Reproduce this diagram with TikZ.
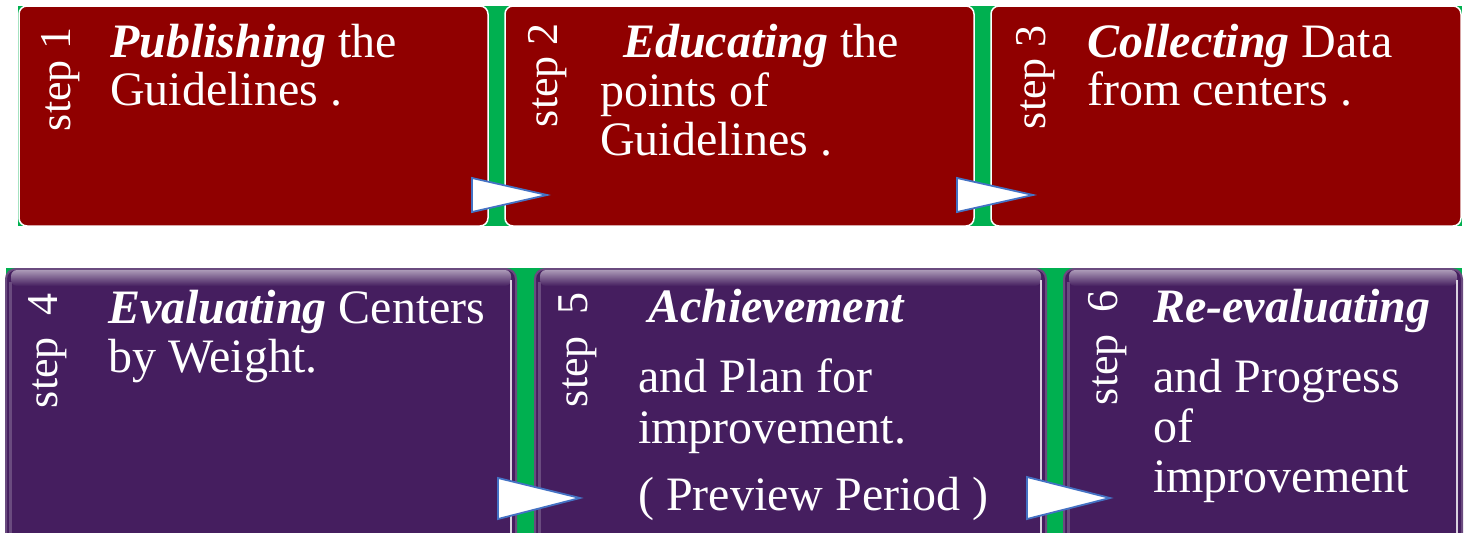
\documentclass[tikz,border=0pt]{standalone}
\usepackage{fontspec}
\setmainfont{Liberation Serif}
\definecolor{stepred}{RGB}{144,0,0}
\definecolor{steppurple}{RGB}{69,30,95}
\definecolor{stepgreen}{RGB}{0,176,80}
\definecolor{arrowblue}{RGB}{68,114,196}
\tikzset{
  redbox/.style={fill=stepred, draw=white, line width=1.5pt, rounded corners=8pt, inner sep=0pt},
  purplebox/.style={fill=steppurple, draw=steppurple!80!white, line width=2pt, rounded corners=10pt, inner sep=0pt},
  steplabel/.style={text=white, rotate=90, anchor=base east, inner sep=0pt, font=\fontsize{44}{50}\selectfont},
  txt/.style={text=white, anchor=base west, inner sep=0pt, font=\fontsize{48}{50}\selectfont},
  pointer/.style={fill=white, draw=arrowblue, line width=1.8pt, line join=miter},
}
\begin{document}
\begin{tikzpicture}[x=1pt,y=-1pt]
  \useasboundingbox (0,0) rectangle (1468,533);
  % green bands behind the rows
  \fill[stepgreen] (18,6) rectangle (1462,226);
  \fill[stepgreen] (6,268) rectangle (1462,545);
  % top row
  \node[redbox, minimum width=469pt, minimum height=220pt] (s1) at (253.5,116) {};
  \node[redbox, minimum width=469pt, minimum height=220pt] (s2) at (739.5,116) {};
  \node[redbox, minimum width=470pt, minimum height=220pt] (s3) at (1226,116) {};
  % bottom row
  \node[purplebox, minimum width=510pt, minimum height=277pt] (s4) at (261,407.5) {};
  \node[purplebox, minimum width=511pt, minimum height=277pt] (s5) at (790.5,407.5) {};
  \node[purplebox, minimum width=398pt, minimum height=277pt] (s6) at (1263,407.5) {};
  \foreach \l/\r in {6/516, 535/1046, 1064/1462}{
    \shade[top color=steppurple!45!white, bottom color=steppurple, rounded corners=6pt] (\l+5,270) rectangle (\r-5,286);
    \draw[steppurple!20!white, line width=2pt] (\r-5,280) -- (\r-5,533);
    \draw[steppurple!80!white, line width=3pt] (\l+4,282) -- (\l+4,533);
  }
  % step labels
  \node[steplabel] (l1) at (70,27) {step 1};
  \node[steplabel] (l2) at (557,23) {step 2};
  \node[steplabel] (l3) at (1045,25) {step 3};
  \node[steplabel] (l4) at (57,293) {step\ \ 4};
  \node[steplabel] (l5) at (587,292) {step\ \ 5};
  \node[steplabel] (l6) at (1117,290) {step\ \ 6};
  % texts
  \node[txt] (t1a) at (110,57) {\textbf{\textit{Publishing}} the};
  \node[txt] (t1b) at (110,105) {Guidelines .};
  \node[txt] (t2a) at (623,57) {\textbf{\textit{Educating}} the};
  \node[txt] (t2b) at (600,106) {points of};
  \node[txt] (t2c) at (600,155) {Guidelines .};
  \node[txt] (t3a) at (1087,57) {\textbf{\textit{Collecting}} Data};
  \node[txt] (t3b) at (1087,105) {from centers .};
  \node[txt] (t4a) at (108,323) {\textbf{\textit{Evaluating}} Centers};
  \node[txt] (t4b) at (108,372) {by Weight.};
  \node[txt] (t5a) at (648,322) {\textbf{\textit{Achievement}}};
  \node[txt] (t5b) at (638,392) {and Plan for};
  \node[txt] (t5c) at (638,443) {improvement.};
  \node[txt] (t5d) at (638,510) {( Preview Period )};
  \node[txt] (t6a) at (1153,322) {\textbf{\textit{Re-evaluating}}};
  \node[txt] (t6b) at (1153,392) {and Progress};
  \node[txt] (t6c) at (1153,442) {of};
  \node[txt] (t6d) at (1153,492) {improvement};
  % pointers between the steps
  \draw[pointer] (472,178) -- (472,212) -- (547,195) -- cycle;
  \draw[pointer] (957,178) -- (957,212) -- (1033,195) -- cycle;
  \draw[pointer] (498,478) -- (498,519) -- (580,498) -- cycle;
  \draw[pointer] (1027,477) -- (1027,519) -- (1110,498) -- cycle;
\end{tikzpicture}
\end{document}
